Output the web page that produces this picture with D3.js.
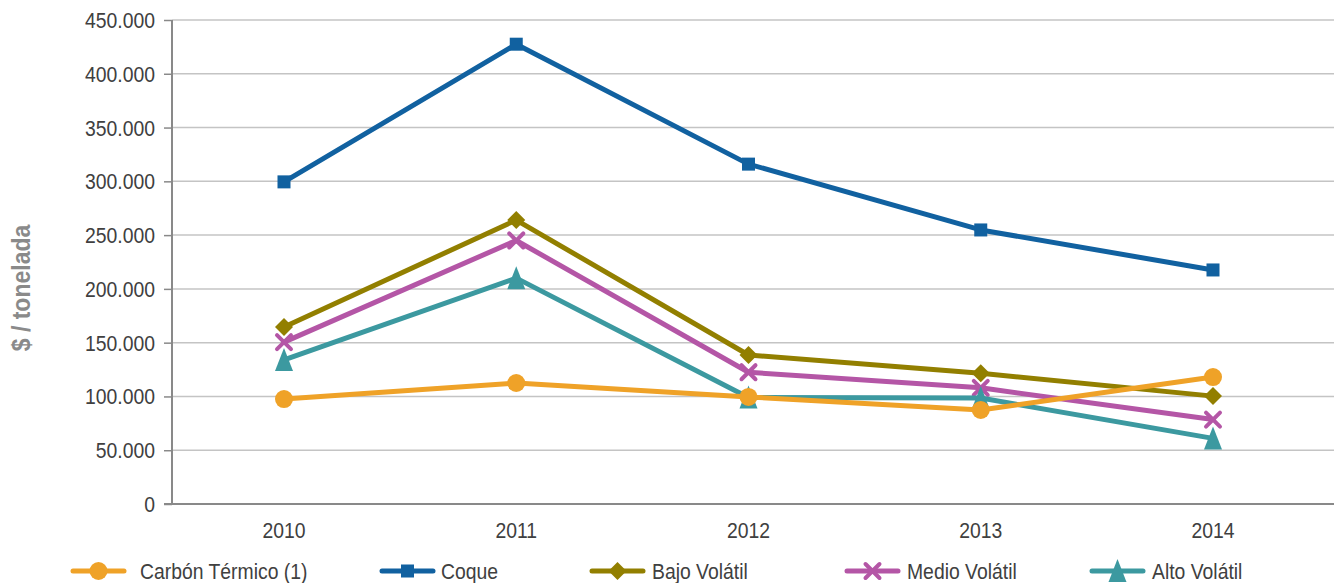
<!DOCTYPE html>
<html>
<head>
<meta charset="utf-8">
<script src="https://cdn.jsdelivr.net/npm/d3@7/dist/d3.min.js"></script>
<style>
  body { margin: 0; background: #fff; }
  svg { display: block; }
</style>
</head>
<body>
<svg id="chart"></svg>
<script>
const years = ['2010', '2011', '2012', '2013', '2014'];
const yTicks = [0, 50000, 100000, 150000, 200000, 250000, 300000, 350000, 400000, 450000];

// $ / tonelada
const carbonTermico = [97600, 112500, 99500, 87400, 118000];
const coque         = [299500, 427500, 316000, 254800, 217600];
const bajoVolatil   = [164500, 264000, 138500, 121500, 100300];
const medioVolatil  = [150500, 245000, 122500, 108000, 78500];
const altoVolatil   = [134000, 210000, 99000, 98500, 61000];

const seriesNames = ['Carbón Térmico (1)', 'Coque', 'Bajo Volátil', 'Medio Volátil', 'Alto Volátil'];

const width = 1334,
      height = 583,
      font = '"Liberation Sans", Arial, sans-serif',
      squeeze = 0.88,          // the original face is a narrow one
      textColor = '#404040',
      axisColor = '#898989',
      gridColor = '#c4c4c4';

const series = [
  { name: seriesNames[0], values: carbonTermico, color: '#EFA228', marker: 'circle' },
  { name: seriesNames[1], values: coque,         color: '#1161A0', marker: 'square' },
  { name: seriesNames[2], values: bajoVolatil,   color: '#927F00', marker: 'diamond' },
  { name: seriesNames[3], values: medioVolatil,  color: '#B456A6', marker: 'cross' },
  { name: seriesNames[4], values: altoVolatil,   color: '#3C99A0', marker: 'triangle' }
];

// Excel draws the first series on top here, so paint it last
const drawOrder = [1, 2, 3, 4, 0];

// legend line start x and label x for each item
const legendX = [73, 382, 592, 847, 1092];
const legendTextX = [140, 441, 652, 907, 1152];

const plotLeft = 172, plotRight = 1334, plotTop = 20, plotBottom = 504;

const svg = d3.select('#chart')
  .attr('width', width)
  .attr('height', height)
  .style('font-family', font);

const x = d3.scalePoint()
  .domain(years)
  .range([284, 1213]);

const y = d3.scaleLinear()
  .domain([0, 450000])
  .range([plotBottom, plotTop]);

const es = d3.formatLocale({ decimal: ',', thousands: '.', grouping: [3], currency: ['$', ''] });
const fmt = es.format(',');

// squeezed text at (tx, ty)
function label(parent, tx, ty, str) {
  return parent.append('text')
    .attr('transform', 'translate(' + tx + ',' + ty + ') scale(' + squeeze + ',1)')
    .attr('fill', textColor)
    .style('font-size', '22px')
    .text(str);
}

// gridlines
svg.append('g')
  .selectAll('line')
  .data(yTicks.filter(d => d > 0))
  .enter().append('line')
  .attr('x1', plotLeft)
  .attr('x2', plotRight)
  .attr('y1', d => y(d))
  .attr('y2', d => y(d))
  .attr('stroke', gridColor)
  .attr('stroke-width', 1.5);

// y axis
const yAxis = svg.append('g')
  .attr('transform', 'translate(' + plotLeft + ',0)')
  .call(d3.axisLeft(y).tickValues(yTicks).tickFormat(fmt).tickSize(8).tickPadding(9));

yAxis.select('.domain').remove();
yAxis.append('line')
  .attr('y1', plotTop)
  .attr('y2', plotBottom)
  .attr('stroke', axisColor)
  .attr('stroke-width', 2);
yAxis.selectAll('.tick line').attr('stroke', axisColor).attr('stroke-width', 1.5);
yAxis.selectAll('.tick text')
  .attr('fill', textColor)
  .attr('x', null)
  .attr('dy', null)
  .attr('transform', 'translate(-17,7.5) scale(' + squeeze + ',1)')
  .style('font-size', '22px')
  .style('font-family', font);

// x baseline
svg.append('line')
  .attr('x1', plotLeft - 8)
  .attr('x2', plotRight)
  .attr('y1', y(0))
  .attr('y2', y(0))
  .attr('stroke', axisColor)
  .attr('stroke-width', 2);

// x labels
const xl = svg.append('g');
years.forEach(yr => {
  label(xl, x(yr), 538, yr).attr('text-anchor', 'middle');
});

// y title
svg.append('text')
  .attr('transform', 'translate(30,288) rotate(-90) scale(0.92,1)')
  .attr('text-anchor', 'middle')
  .attr('fill', '#8a8a8a')
  .style('font-size', '25px')
  .style('font-weight', 'bold')
  .text('$ / tonelada');

function drawMarker(g, type, color) {
  if (type === 'circle') {
    g.append('circle').attr('r', 9).attr('fill', color);
  } else if (type === 'square') {
    g.append('rect').attr('x', -6.5).attr('y', -6.5).attr('width', 13).attr('height', 13).attr('fill', color);
  } else if (type === 'diamond') {
    g.append('path').attr('d', 'M0,-9L9,0L0,9L-9,0Z').attr('fill', color);
  } else if (type === 'triangle') {
    g.append('path').attr('d', 'M0,-12L9,11L-9,11Z').attr('fill', color);
  } else if (type === 'cross') {
    g.append('path').attr('d', 'M-7,-7L7,7M-7,7L7,-7')
      .attr('stroke', color).attr('stroke-width', 4).attr('stroke-linecap', 'round').attr('fill', 'none');
  }
}

const line = d3.line()
  .x((d, i) => x(years[i]))
  .y(d => y(d));

const plot = svg.append('g');

drawOrder.forEach(k => {
  const s = series[k];
  const g = plot.append('g');
  g.append('path')
    .attr('d', line(s.values))
    .attr('fill', 'none')
    .attr('stroke', s.color)
    .attr('stroke-width', 5)
    .attr('stroke-linecap', 'round')
    .attr('stroke-linejoin', 'round');
  g.selectAll('g.m')
    .data(s.values)
    .enter().append('g')
    .attr('class', 'm')
    .attr('transform', (d, i) => 'translate(' + x(years[i]) + ',' + y(d) + ')')
    .each(function() { drawMarker(d3.select(this), s.marker, s.color); });
});

// legend
const legend = svg.append('g');
series.forEach((s, i) => {
  const item = legend.append('g').attr('transform', 'translate(' + legendX[i] + ',571)');
  item.append('line')
    .attr('x1', 0).attr('x2', 51)
    .attr('stroke', s.color)
    .attr('stroke-width', 5)
    .attr('stroke-linecap', 'round');
  const m = item.append('g').attr('transform', 'translate(25.5,0)');
  drawMarker(m, s.marker, s.color);
  label(legend, legendTextX[i], 579, s.name);
});
</script>
</body>
</html>
